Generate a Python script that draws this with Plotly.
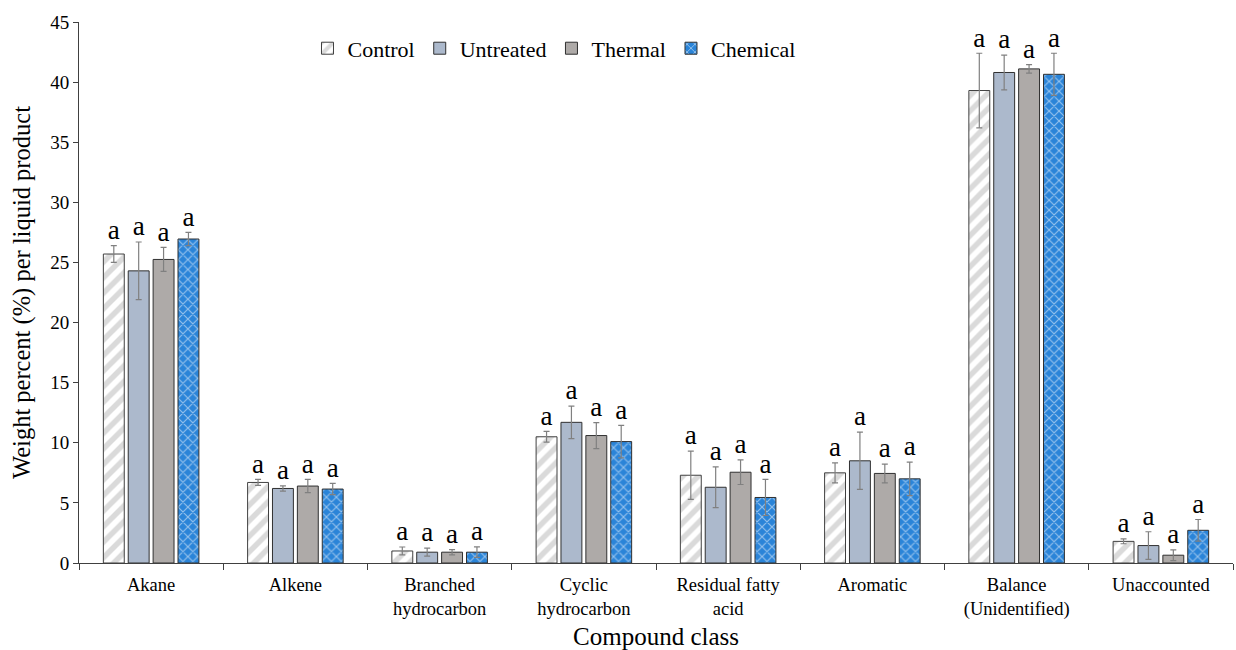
import plotly.graph_objects as go

categories = ["Akane", "Alkene", "Branched<br>hydrocarbon", "Cyclic<br>hydrocarbon",
              "Residual fatty<br>acid", "Aromatic", "Balance<br>(Unidentified)", "Unaccounted"]

control = [25.7, 6.7, 1.0, 10.5, 7.3, 7.5, 39.3, 1.8]
control_err = [0.7, 0.25, 0.33, 0.45, 2.0, 0.83, 3.1, 0.2]
untreated = [24.3, 6.2, 0.9, 11.7, 6.3, 8.5, 40.8, 1.45]
untreated_err = [2.4, 0.22, 0.33, 1.35, 1.7, 2.38, 1.45, 1.15]
thermal = [25.25, 6.4, 0.9, 10.6, 7.55, 7.45, 41.1, 0.65]
thermal_err = [1.0, 0.55, 0.22, 1.08, 1.02, 0.78, 0.35, 0.45]
chemical = [26.95, 6.15, 0.9, 10.1, 5.45, 7.0, 40.65, 2.72]
chemical_err = [0.55, 0.47, 0.44, 1.35, 1.5, 1.39, 1.75, 0.9]

letters = ["a"] * 8

SERIF = "Liberation Serif"

series = [
    ("Control", control, control_err,
     dict(color="white", line=dict(color="#404040", width=1),
          pattern=dict(shape="/", fgcolor="#b5b5b5", bgcolor="white", size=11, solidity=0.5))),
    ("Untreated", untreated, untreated_err,
     dict(color="#acb9cc", line=dict(color="#303030", width=1))),
    ("Thermal", thermal, thermal_err,
     dict(color="#aeaaa8", line=dict(color="#303030", width=1))),
    ("Chemical", chemical, chemical_err,
     dict(color="#2a84d8", line=dict(color="#303030", width=1),
          pattern=dict(shape="x", fgcolor="white", bgcolor="#2a84d8", size=7, solidity=0.3))),
]

fig = go.Figure()
for i, (name, vals, errs, marker) in enumerate(series):
    fig.add_trace(go.Bar(
        x=categories, y=vals, name=name, marker=marker, offsetgroup=str(i),
        error_y=dict(type="data", array=errs, color="#808080", thickness=1.2, width=3),
    ))
for i, (name, vals, errs, marker) in enumerate(series):
    fig.add_trace(go.Scatter(
        x=categories, y=[v + e for v, e in zip(vals, errs)], mode="text",
        text=letters, textposition="top center", offsetgroup=str(i),
        textfont=dict(family=SERIF, size=27, color="black"),
        showlegend=False, hoverinfo="skip",
    ))

fig.update_layout(
    width=1236, height=650,
    margin=dict(l=79, r=3, t=22, b=87),
    plot_bgcolor="white", paper_bgcolor="white",
    barmode="group", bargap=0.31, bargroupgap=0.16,
    scattermode="group", scattergap=0.31,
    font=dict(family=SERIF, color="black"),
    legend=dict(orientation="h", x=0.198, xanchor="left", y=0.99, yanchor="top",
                font=dict(size=22, family=SERIF), bgcolor="rgba(0,0,0,0)",
                itemwidth=30, tracegroupgap=0),
    showlegend=True,
)
fig.update_xaxes(
    showline=True, linecolor="#404040", linewidth=1,
    ticks="outside", tickson="boundaries", ticklen=6, tickcolor="#404040",
    ticklabelstandoff=5,
    tickfont=dict(size=18.5, family=SERIF),
    title=dict(text="Compound class", font=dict(size=25, family=SERIF), standoff=8),
    showgrid=False,
)
fig.update_yaxes(
    range=[0, 45], dtick=5, showline=True, linecolor="#404040", linewidth=1,
    ticks="outside", ticklen=5, tickcolor="#404040",
    tickfont=dict(size=19, family=SERIF),
    title=dict(text="Weight percent (%) per liquid product",
               font=dict(size=24.5, family=SERIF), standoff=12),
    showgrid=False, zeroline=False,
)

fig.write_html("out.html")
